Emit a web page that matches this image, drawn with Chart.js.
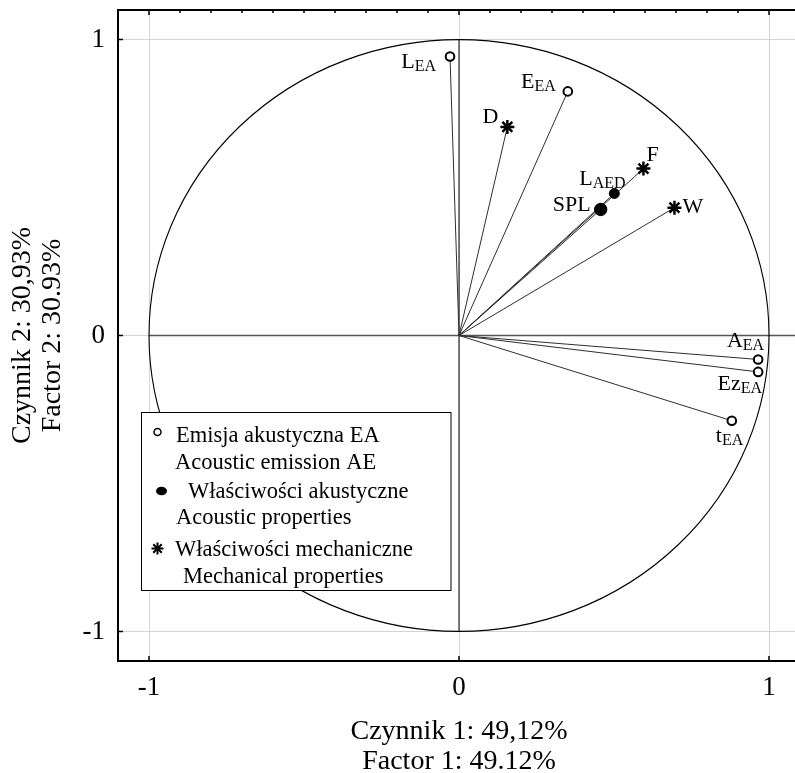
<!DOCTYPE html>
<html lang="pl">
<head>
<meta charset="utf-8">
<title>Czynnik 1 / Czynnik 2</title>
<style>
  html, body { margin: 0; padding: 0; background: #fff; }
  #wrap { position: relative; width: 795px; height: 773px; overflow: hidden; }
  #pcaChart { position: absolute; left: 0; top: 0; }
</style>
</head>
<body>
<div id="wrap"><canvas id="pcaChart" width="810" height="773"></canvas></div>
<script src="https://cdn.jsdelivr.net/npm/chart.js"></script>
<script>
// Emisja akustyczna EA (open circles)
const eaNames = ['L', 'E', 'A', 'Ez', 't'];
const eaSubs = ['EA', 'EA', 'EA', 'EA', 'EA'];
const eaX = [-0.029, 0.351, 0.965, 0.965, 0.880];
const eaY = [0.943, 0.825, -0.081, -0.123, -0.288];

// Wlasciwosci akustyczne (filled circles)
const acNames = ['L', 'SPL'];
const acSubs = ['AED', ''];
const acX = [0.501, 0.457];
const acY = [0.480, 0.426];

// Wlasciwosci mechaniczne (asterisks)
const meNames = ['D', 'F', 'W'];
const meSubs = ['', '', ''];
const meX = [0.156, 0.595, 0.695];
const meY = [0.705, 0.564, 0.432];

const axisMin = -1.1;
const axisMax = 1.1;
const xTitle = ['Czynnik 1: 49,12%', 'Factor 1: 49.12%'];
const yTitle = ['Czynnik 2: 30,93%', 'Factor 2: 30.93%'];

const legendText = [
  ['Emisja akustyczna EA', 'Acoustic emission AE'],
  ['Właściwości akustyczne', 'Acoustic properties'],
  ['Właściwości mechaniczne', 'Mechanical properties']
];

// where each label sits next to its point: [dx, dy(baseline), anchor]
const eaPlace = [[-14, 12, 'right'], [-12, -3, 'right'], [6, -12, 'right'], [4, 18, 'right'], [-16, 21, 'left']];
const acPlace = [[-35, -8, 'left'], [-10, 2, 'right']];
const mePlace = [[-9, -4, 'right'], [3, -8, 'left'], [8, 5, 'left']];

const FONT = '"Liberation Serif", "Times New Roman", serif';

function pts(xs, ys) {
  return xs.map((x, i) => ({x: x, y: ys[i]}));
}
function isInt(v) {
  return Math.abs(v - Math.round(v)) < 1e-6;
}
function onStep(v, step) {
  return Math.abs(v / step - Math.round(v / step)) < 1e-6;
}

const circlePlugin = {
  id: 'circleAndVectors',
  beforeDatasetsDraw(chart) {
    const {ctx, scales: {x, y}} = chart;
    const ox = x.getPixelForValue(0), oy = y.getPixelForValue(0);
    ctx.save();
    // darker axis lines through the origin
    ctx.strokeStyle = '#555';
    ctx.lineWidth = 1.5;
    ctx.beginPath();
    ctx.moveTo(x.getPixelForValue(-1), oy);
    ctx.lineTo(x.getPixelForValue(axisMax), oy);
    ctx.stroke();
    ctx.strokeStyle = '#000';
    ctx.lineWidth = 1;
    ctx.beginPath();
    ctx.moveTo(ox, y.getPixelForValue(1));
    ctx.lineTo(ox, y.getPixelForValue(-1));
    ctx.stroke();
    // unit circle
    ctx.beginPath();
    ctx.ellipse(ox, oy, x.getPixelForValue(1) - ox, oy - y.getPixelForValue(1), 0, 0, Math.PI * 2);
    ctx.lineWidth = 1.1;
    ctx.strokeStyle = '#000';
    ctx.stroke();
    // vectors from origin
    ctx.strokeStyle = '#2e2e2e';
    ctx.lineWidth = 1;
    chart.data.datasets.forEach((ds, i) => {
      chart.getDatasetMeta(i).data.forEach(pt => {
        ctx.beginPath();
        ctx.moveTo(ox, oy);
        ctx.lineTo(pt.x, pt.y);
        ctx.stroke();
      });
    });
    ctx.restore();
  }
};

const labelPlugin = {
  id: 'pointLabels',
  afterDatasetsDraw(chart) {
    const ctx = chart.ctx;
    ctx.save();
    ctx.fillStyle = '#000';
    ctx.textBaseline = 'alphabetic';
    ctx.textAlign = 'left';
    chart.data.datasets.forEach((ds, i) => {
      chart.getDatasetMeta(i).data.forEach((pt, j) => {
        const main = ds.names[j], sub = ds.subs[j], pl = ds.place[j];
        ctx.font = '22px ' + FONT;
        const wm = ctx.measureText(main).width;
        ctx.font = '16px ' + FONT;
        const ws = sub ? ctx.measureText(sub).width : 0;
        let left = pt.x + pl[0];
        if (pl[2] === 'right') left -= wm + ws;
        const base = pt.y + pl[1];
        ctx.font = '22px ' + FONT;
        ctx.fillText(main, left, base);
        if (sub) {
          ctx.font = '16px ' + FONT;
          ctx.fillText(sub, left + wm, base + 3);
        }
      });
    });
    ctx.restore();
  }
};

const framePlugin = {
  id: 'frameTicks',
  afterDraw(chart) {
    const {ctx, chartArea: a, scales: {x, x2, y}} = chart;
    ctx.save();
    ctx.strokeStyle = '#000';
    ctx.lineWidth = 1.5;
    ctx.beginPath();
    x.ticks.forEach(t => {
      if (!onStep(t.value, 0.25)) return;
      const p = x.getPixelForValue(t.value);
      ctx.moveTo(p, a.bottom);
      ctx.lineTo(p, a.bottom - (isInt(t.value) ? 5 : 3));
    });
    x2.ticks.forEach(t => {
      if (!onStep(t.value, 0.1)) return;
      const p = x2.getPixelForValue(t.value);
      ctx.moveTo(p, a.top);
      ctx.lineTo(p, a.top + (isInt(t.value) ? 5 : 3));
    });
    y.ticks.forEach(t => {
      if (!onStep(t.value, 0.25)) return;
      const p = y.getPixelForValue(t.value);
      ctx.moveTo(a.left, p);
      ctx.lineTo(a.left + 5, p);
    });
    ctx.stroke();
    ctx.restore();
  }
};

const legendPlugin = {
  id: 'boxLegend',
  afterDraw(chart) {
    const ctx = chart.ctx;
    ctx.save();
    ctx.fillStyle = '#fff';
    ctx.fillRect(141.5, 412.5, 309.5, 178);
    ctx.strokeStyle = '#000';
    ctx.lineWidth = 1;
    ctx.strokeRect(141.5, 412.5, 309.5, 178);

    // markers
    ctx.lineWidth = 1.5;
    ctx.beginPath();
    ctx.arc(157.5, 432, 3.5, 0, Math.PI * 2);
    ctx.stroke();
    ctx.fillStyle = '#000';
    ctx.beginPath();
    ctx.ellipse(161.5, 491, 5.5, 4.3, 0, 0, Math.PI * 2);
    ctx.fill();
    ctx.beginPath();
    ctx.lineWidth = 2;
    const sx = 157.5, sy = 548.5, r = 6;
    for (let k = 0; k < 4; k++) {
      const ang = k * Math.PI / 4;
      ctx.moveTo(sx - Math.cos(ang) * r, sy - Math.sin(ang) * r);
      ctx.lineTo(sx + Math.cos(ang) * r, sy + Math.sin(ang) * r);
    }
    ctx.stroke();

    ctx.font = '22.5px ' + FONT;
    ctx.textBaseline = 'alphabetic';
    ctx.textAlign = 'left';
    const xs = [[176, 175], [188, 176], [175, 183]];
    const ys = [[442, 468.5], [498, 523.5], [555.5, 583]];
    legendText.forEach((lines, i) => {
      lines.forEach((txt, j) => ctx.fillText(txt, xs[i][j], ys[i][j]));
    });
    ctx.restore();
  }
};

const gridColor = ctx => isInt(ctx.tick.value) ? '#d4d4d4' : 'rgba(0,0,0,0)';
const tickLabel = v => isInt(v) ? String(Math.round(v)) : null;

new Chart(document.getElementById('pcaChart'), {
  type: 'scatter',
  data: {
    datasets: [
      {
        label: 'EA', data: pts(eaX, eaY), names: eaNames, subs: eaSubs, place: eaPlace,
        pointStyle: 'circle', pointRadius: 4.3, pointHoverRadius: 4.3,
        borderColor: '#000', backgroundColor: '#fff', borderWidth: 2
      },
      {
        label: 'AC', data: pts(acX, acY), names: acNames, subs: acSubs, place: acPlace,
        pointStyle: 'circle', pointRadius: [5, 6.2], pointHoverRadius: [5, 6.2],
        borderColor: '#000', backgroundColor: '#000', borderWidth: 1
      },
      {
        label: 'ME', data: pts(meX, meY), names: meNames, subs: meSubs, place: mePlace,
        pointStyle: 'star', pointRadius: 7, pointHoverRadius: 7,
        borderColor: '#000', backgroundColor: '#000', borderWidth: 2.5
      }
    ]
  },
  options: {
    responsive: false,
    animation: false,
    devicePixelRatio: 1,
    layout: { padding: { top: 10, right: 10, left: 0, bottom: 0 } },
    plugins: { legend: { display: false }, tooltip: { enabled: false } },
    scales: {
      x: {
        type: 'linear', position: 'bottom', min: axisMin, max: axisMax,
        afterFit: s => { s.height = 112; s.paddingLeft = 0; s.paddingRight = 0; },
        grid: { color: gridColor, lineWidth: 1, drawTicks: false },
        border: { display: true, color: '#000', width: 2 },
        ticks: {
          stepSize: 0.25, autoSkip: false, includeBounds: false, maxTicksLimit: 50,
          maxRotation: 0, padding: 11,
          color: '#000', font: { family: FONT, size: 27, lineHeight: 1.2 },
          callback: tickLabel
        },
        title: {
          display: true, text: xTitle, color: '#000',
          font: { family: FONT, size: 28, lineHeight: 1.07 },
          padding: { top: 0, bottom: -4 }
        }
      },
      x2: {
        type: 'linear', position: 'top', min: axisMin, max: axisMax,
        afterFit: s => { s.height = 0; s.paddingLeft = 0; s.paddingRight = 0; },
        grid: { display: false, drawTicks: false },
        border: { display: true, color: '#000', width: 2 },
        ticks: { display: false, stepSize: 0.1, autoSkip: false, maxTicksLimit: 50 }
      },
      y: {
        type: 'linear', position: 'left', min: axisMin, max: axisMax,
        afterFit: s => { s.width = 118; s.paddingTop = 0; s.paddingBottom = 0; },
        grid: { color: gridColor, lineWidth: 1, drawTicks: false },
        border: { display: true, color: '#000', width: 2 },
        ticks: {
          stepSize: 0.25, autoSkip: false, includeBounds: false, maxTicksLimit: 50,
          padding: 13,
          color: '#000', font: { family: FONT, size: 27, lineHeight: 1.2 },
          callback: tickLabel
        },
        title: {
          display: true, text: yTitle, color: '#000',
          font: { family: FONT, size: 28, lineHeight: 1.07 },
          padding: { top: 8, bottom: 0 }
        }
      }
    }
  },
  plugins: [circlePlugin, labelPlugin, framePlugin, legendPlugin]
});
</script>
</body>
</html>
